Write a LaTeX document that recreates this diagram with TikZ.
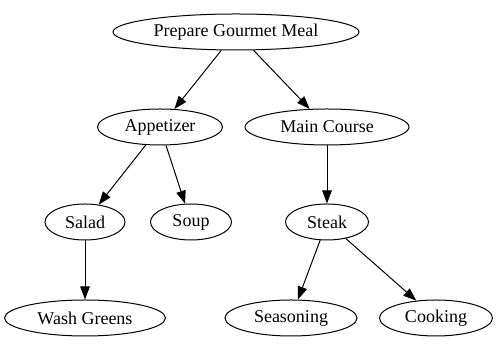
\documentclass[tikz,border=0pt]{standalone}
\usepackage{fontspec}
\setmainfont{Liberation Serif}
\usetikzlibrary{shapes.geometric,arrows.meta}
\begin{document}
\begin{tikzpicture}[x=1pt,y=1pt,
  task/.style={ellipse,draw,line width=1pt,inner sep=0pt,minimum height=36pt,font=\fontsize{18}{20}\selectfont},
  link/.style={draw,line width=1pt,-{Triangle[length=13pt,width=9.5pt]}}]
\useasboundingbox (0,0) rectangle (499,347);
\node[task,minimum width=246pt] (meal) at (236,315) {Prepare Gourmet Meal};
\node[task,minimum width=125pt] (app) at (160,220) {Appetizer};
\node[task,minimum width=164pt] (main) at (327,220) {Main Course};
\node[task,minimum width=80pt] (salad) at (85,125) {Salad};
\node[task,minimum width=81pt] (soup) at (191,125) {Soup};
\node[task,minimum width=83pt] (steak) at (327,125) {Steak};
\node[task,minimum width=161pt] (wash) at (85,29) {Wash Greens};
\node[task,minimum width=132pt] (season) at (291,29) {Seasoning};
\node[task,minimum width=113pt] (cook) at (436,29) {Cooking};
\path[link] (meal) -- (app);
\path[link] (meal) -- (main);
\path[link] (app) -- (salad);
\path[link] (app) -- (soup);
\path[link] (main) -- (steak);
\path[link] (salad) -- (wash);
\path[link] (steak) -- (season);
\path[link] (steak) -- (cook);
\end{tikzpicture}
\end{document}
